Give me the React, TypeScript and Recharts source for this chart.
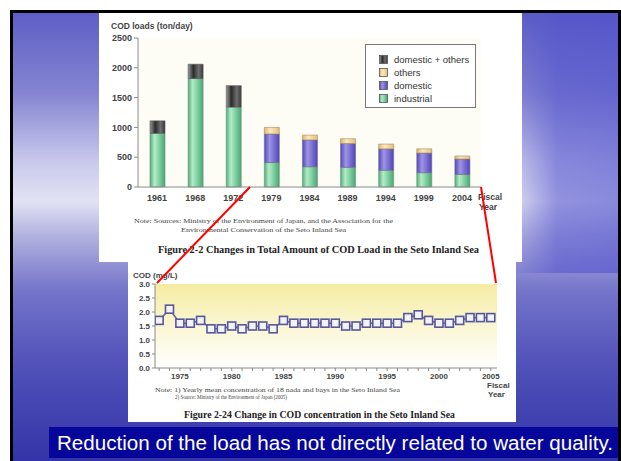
import React from 'react';
import { BarChart, Bar, XAxis, YAxis, CartesianGrid, LineChart, Line } from 'recharts';

// ---- Data: COD loads (ton/day) ----
const loadYears = ['1961', '1968', '1972', '1979', '1984', '1989', '1994', '1999', '2004'];
const industrial = [900, 1820, 1340, 410, 340, 330, 280, 240, 210];
const domestic = [null, null, null, 480, 450, 400, 360, 330, 260];
const others = [null, null, null, 110, 80, 80, 80, 70, 50];
const domesticOthers = [210, 240, 360, null, null, null, null, null, null];
const loadTicks = [0, 500, 1000, 1500, 2000, 2500];

// ---- Data: COD concentration (mg/L) ----
const codYears = [1973, 1974, 1975, 1976, 1977, 1978, 1979, 1980, 1981, 1982, 1983, 1984, 1985, 1986, 1987, 1988, 1989, 1990, 1991, 1992, 1993, 1994, 1995, 1996, 1997, 1998, 1999, 2000, 2001, 2002, 2003, 2004, 2005];
const codValues = [1.7, 2.1, 1.6, 1.6, 1.7, 1.4, 1.4, 1.5, 1.4, 1.5, 1.5, 1.4, 1.7, 1.6, 1.6, 1.6, 1.6, 1.6, 1.5, 1.5, 1.6, 1.6, 1.6, 1.6, 1.8, 1.9, 1.7, 1.6, 1.6, 1.7, 1.8, 1.8, 1.8];
const codTicks = [0, 0.5, 1.0, 1.5, 2.0, 2.5, 3.0];

const legendItems = [
  { name: 'domestic + others', fill: 'url(#gDark)' },
  { name: 'others', fill: 'url(#gOthers)' },
  { name: 'domestic', fill: 'url(#gDomestic)' },
  { name: 'industrial', fill: 'url(#gGreen)' },
];

const loadData = loadYears.map((y, i) => ({
  year: y,
  industrial: industrial[i],
  domestic: domestic[i],
  others: others[i],
  domesticOthers: domesticOthers[i],
}));
const codData = codYears.map((y, i) => ({ year: y, cod: codValues[i] }));

const SANS = '"Liberation Sans", Arial, sans-serif';
const SERIF = '"Liberation Serif", "Times New Roman", serif';

const SquareDot = (p: any) => (
  <rect key={`d${p.index}`} x={p.cx - 4} y={p.cy - 4} width={8} height={8} fill="#f3f3f7" stroke="#57579c" strokeWidth={1.6} />
);

export default function App() {
  return (
    <div style={{ position: 'absolute', left: 0, top: 0, width: 621, height: 461, background: '#fff', overflow: 'hidden' }}>
      <svg width={0} height={0} style={{ position: 'absolute' }}>
        <defs>
          <linearGradient id="gGreen" x1="0" y1="0" x2="1" y2="0">
            <stop offset="0%" stopColor="#4fae78" />
            <stop offset="30%" stopColor="#b4ebc8" />
            <stop offset="65%" stopColor="#7acd9c" />
            <stop offset="100%" stopColor="#4aa673" />
          </linearGradient>
          <linearGradient id="gDomestic" x1="0" y1="0" x2="1" y2="0">
            <stop offset="0%" stopColor="#5548bd" />
            <stop offset="35%" stopColor="#9e95e2" />
            <stop offset="70%" stopColor="#7468d0" />
            <stop offset="100%" stopColor="#5246b8" />
          </linearGradient>
          <linearGradient id="gOthers" x1="0" y1="0" x2="1" y2="0">
            <stop offset="0%" stopColor="#e2b86c" />
            <stop offset="40%" stopColor="#fbe8bf" />
            <stop offset="100%" stopColor="#e6bf78" />
          </linearGradient>
          <linearGradient id="gDark" x1="0" y1="0" x2="1" y2="0">
            <stop offset="0%" stopColor="#9a9a9a" />
            <stop offset="35%" stopColor="#2c2c2c" />
            <stop offset="70%" stopColor="#6e6e6e" />
            <stop offset="100%" stopColor="#3a3a3a" />
          </linearGradient>
          <linearGradient id="gYellow" x1="0" y1="0" x2="0" y2="1">
            <stop offset="0%" stopColor="#f5eca2" />
            <stop offset="55%" stopColor="#fbf7d8" />
            <stop offset="100%" stopColor="#ffffff" />
          </linearGradient>
        </defs>
      </svg>

      {/* slide frame and background */}
      <div style={{ position: 'absolute', left: 10, top: 10, width: 611, height: 451, background: '#000' }} />
      <div
        style={{
          position: 'absolute', left: 13, top: 13, width: 605, height: 448,
          background: 'linear-gradient(to bottom, #5e5ec6 0%, #8585d2 18%, #c8c8ec 33%, #e2e2f4 42%, #b0b0e0 50%, #7474ca 62%, #5252ba 78%, #3434a8 100%)',
        }}
      />
      <div
        style={{
          position: 'absolute', left: 13, top: 13, width: 605, height: 260,
          background: 'linear-gradient(to right, rgba(90,90,205,0) 0%, rgba(90,90,205,0) 82%, rgba(80,80,205,0.55) 90%, rgba(80,80,205,0.6) 100%)',
        }}
      />

      {/* panels */}
      <div style={{ position: 'absolute', left: 99, top: 13, width: 423, height: 249, background: '#fff' }} />
      <div style={{ position: 'absolute', left: 128, top: 258, width: 388, height: 164, background: '#fff' }} />

      {/* top chart */}
      <div style={{ position: 'absolute', left: 99, top: 13 }}>
        <BarChart width={423} height={220} data={loadData} margin={{ top: 25, right: 41, bottom: 26, left: 9 }} barSize={15}>
          <CartesianGrid horizontal={false} vertical={false} fill="#fdfdf6" />
          <XAxis dataKey="year" tickLine={false} tickSize={4} tickMargin={4} height={20} stroke="#8a8a8a" interval={0}
            tick={{ fill: '#444', fontSize: 9, fontWeight: 'bold', fontFamily: SANS }} />
          <XAxis xAxisId="top" dataKey="year" orientation="top" height={0} tick={false} tickLine={false} stroke="#8a8a8a" />
          <YAxis domain={[0, 2500]} ticks={loadTicks} width={30} tickSize={4} tickMargin={2} stroke="#8a8a8a" interval={0}
            tick={{ fill: '#444', fontSize: 9, fontWeight: 'bold', fontFamily: SANS }} />
          <YAxis yAxisId="right" orientation="right" domain={[0, 2500]} width={0} tick={false} tickLine={false} stroke="#8a8a8a" />
          <Bar dataKey="industrial" stackId="a" fill="url(#gGreen)" stroke="#6f8f7c" strokeWidth={0.6} isAnimationActive={false} />
          <Bar dataKey="domestic" stackId="a" fill="url(#gDomestic)" stroke="#6a6a90" strokeWidth={0.6} isAnimationActive={false} />
          <Bar dataKey="others" stackId="a" fill="url(#gOthers)" stroke="#a08a60" strokeWidth={0.6} isAnimationActive={false} />
          <Bar dataKey="domesticOthers" stackId="a" fill="url(#gDark)" stroke="#555" strokeWidth={0.6} isAnimationActive={false} />
        </BarChart>
      </div>

      {/* top legend */}
      <div style={{ position: 'absolute', left: 365, top: 44, width: 111, height: 64, border: '1px solid #777', background: '#fff', boxSizing: 'border-box', fontFamily: SANS, fontSize: 9.5, color: '#333' }}>
        {legendItems.map((it, i) => (
          <div key={it.name} style={{ position: 'absolute', left: 13, top: 8 + i * 13.3, height: 12, display: 'flex', alignItems: 'center', whiteSpace: 'nowrap' }}>
            <svg width={9} height={9} style={{ marginRight: 6 }}>
              <rect x={0.5} y={0.5} width={8} height={8} fill={it.fill} stroke="#555" strokeWidth={0.8} />
            </svg>
            <span>{it.name}</span>
          </div>
        ))}
      </div>

      {/* bottom chart */}
      <div style={{ position: 'absolute', left: 128, top: 262 }}>
        <LineChart width={388} height={162} data={codData} margin={{ top: 22, right: 19, bottom: 40, left: 5 }}>
          <CartesianGrid horizontal={false} vertical={false} fill="url(#gYellow)" />
          <XAxis dataKey="year" type="number" domain={[1972.6, 2005.6]} allowDataOverflow ticks={codYears} interval={0}
            tickFormatter={(v: number) => (v % 5 === 0 ? String(v) : '')} tickSize={3} tickMargin={2} height={16} stroke="#8a8a8a"
            tick={{ fill: '#444', fontSize: 8, fontWeight: 'bold', fontFamily: SANS }} />
          <XAxis xAxisId="top" dataKey="year" type="number" domain={[1972.6, 2005.6]} allowDataOverflow orientation="top" height={0} tick={false} tickLine={false} stroke="#8a8a8a" />
          <YAxis domain={[0, 3]} ticks={codTicks} interval={0} tickFormatter={(v: number) => v.toFixed(1)} width={22} tickSize={3} tickMargin={2} stroke="#8a8a8a"
            tick={{ fill: '#444', fontSize: 8, fontWeight: 'bold', fontFamily: SANS }} />
          <YAxis yAxisId="right" orientation="right" domain={[0, 3]} width={0} tick={false} tickLine={false} stroke="#8a8a8a" />
          <Line dataKey="cod" stroke="#6464a6" strokeWidth={1.6} dot={SquareDot} isAnimationActive={false} />
        </LineChart>
      </div>

      {/* overlay texts and red connectors */}
      <svg width={621} height={461} style={{ position: 'absolute', left: 0, top: 0, pointerEvents: 'none' }}>
        <text x={111} y={29} fontFamily={SANS} fontSize={8.5} fontWeight="bold" fill="#444">COD loads (ton/day)</text>
        <text x={478} y={200} fontFamily={SANS} fontSize={8.5} fontWeight="bold" fill="#444">Fiscal</text>
        <text x={479} y={210} fontFamily={SANS} fontSize={8.5} fontWeight="bold" fill="#444">Year</text>
        <text x={134} y={223} fontFamily={SERIF} fontSize={7} fill="#444" textLength={259} lengthAdjust="spacingAndGlyphs">Note: Sources: Ministry of the Environment of Japan, and the Association for the</text>
        <text x={181} y={232} fontFamily={SERIF} fontSize={7} fill="#444" textLength={165} lengthAdjust="spacingAndGlyphs">Environmental Conservation of the Seto Inland Sea</text>
        <text x={158} y={253} fontFamily={SERIF} fontSize={10.5} fontWeight="bold" fill="#222" textLength={321} lengthAdjust="spacingAndGlyphs">Figure 2-2 Changes in Total Amount of COD Load in the Seto Inland Sea</text>

        <text x={133} y={278} fontFamily={SANS} fontSize={8} fontWeight="bold" fill="#444">COD (mg/L)</text>
        <text x={487} y={388} fontFamily={SANS} fontSize={8} fontWeight="bold" fill="#444">Fiscal</text>
        <text x={488} y={397} fontFamily={SANS} fontSize={8} fontWeight="bold" fill="#444">Year</text>
        <text x={155} y={392} fontFamily={SERIF} fontSize={6} fill="#444" textLength={245} lengthAdjust="spacingAndGlyphs">Note:  1) Yearly mean concentration of 18 nada and bays in the Seto Inland Sea</text>
        <text x={175} y={399} fontFamily={SERIF} fontSize={6} fill="#444" textLength={112} lengthAdjust="spacingAndGlyphs">2) Source: Ministry of the Environment of Japan (2005)</text>
        <text x={184} y={418} fontFamily={SERIF} fontSize={10} fontWeight="bold" fill="#222" textLength={271} lengthAdjust="spacingAndGlyphs">Figure 2-24 Change in COD concentration in the Seto Inland Sea</text>

        <line x1={250} y1={187} x2={157} y2={283} stroke="#ff0000" strokeWidth={2} />
        <line x1={481} y1={187} x2={496} y2={283} stroke="#ff0000" strokeWidth={2} />

        <rect x={49} y={427} width={569} height={31} fill="#06069a" />
        <text x={57} y={450} fontFamily={SANS} fontSize={20} fill="#ffffff" textLength={556} lengthAdjust="spacingAndGlyphs">Reduction of the load has not directly related to water quality.</text>
      </svg>
    </div>
  );
}
